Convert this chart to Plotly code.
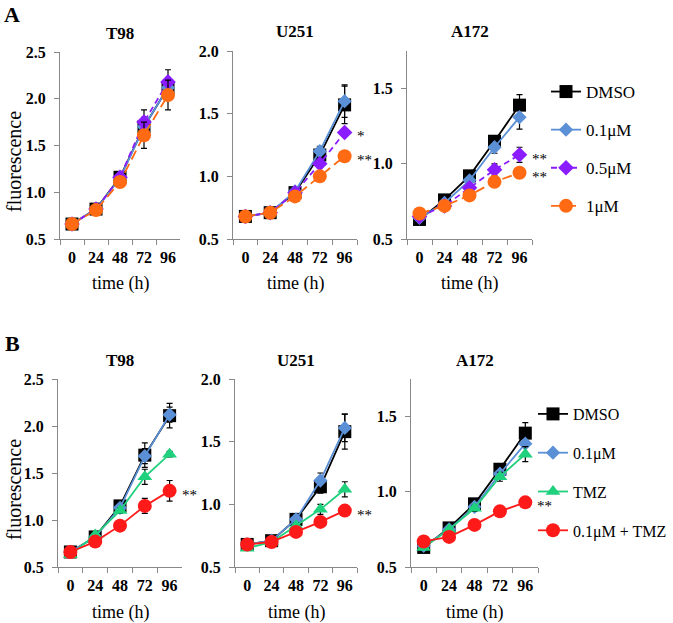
import plotly.graph_objects as go

# ---------------- data ----------------
times = ["0", "24", "48", "72", "96"]
cell_lines = ["T98", "U251", "A172"]

names_A = ["DMSO", "0.1μM", "0.5μM", "1μM"]
names_B = ["DMSO", "0.1μM", "TMZ", "0.1μM + TMZ"]

# Panel A values and errors
A_T98 = {
    "DMSO":  [0.66, 0.82, 1.16, 1.70, 2.12],
    "0.1μM": [0.66, 0.82, 1.15, 1.70, 2.12],
    "0.5μM": [0.66, 0.82, 1.16, 1.75, 2.18],
    "1μM":   [0.66, 0.81, 1.11, 1.61, 2.04],
}
A_T98_err = {
    "DMSO":  [0.02, 0.02, 0.04, 0.10, 0.10],
    "0.1μM": [0.02, 0.02, 0.03, 0.08, 0.08],
    "0.5μM": [0.02, 0.02, 0.03, 0.13, 0.13],
    "1μM":   [0.02, 0.02, 0.04, 0.14, 0.16],
}
A_U251 = {
    "DMSO":  [0.68, 0.71, 0.87, 1.17, 1.57],
    "0.1μM": [0.68, 0.71, 0.88, 1.20, 1.60],
    "0.5μM": [0.68, 0.71, 0.87, 1.10, 1.35],
    "1μM":   [0.68, 0.71, 0.84, 1.00, 1.16],
}
A_U251_err = {
    "DMSO":  [0.01, 0.01, 0.02, 0.05, 0.15],
    "0.1μM": [0.01, 0.01, 0.02, 0.04, 0.13],
    "0.5μM": [0.01, 0.01, 0.02, 0.03, 0.03],
    "1μM":   [0.01, 0.01, 0.02, 0.02, 0.04],
}
A_A172 = {
    "DMSO":  [0.63, 0.76, 0.92, 1.15, 1.39],
    "0.1μM": [0.64, 0.74, 0.89, 1.11, 1.31],
    "0.5μM": [0.65, 0.72, 0.84, 0.96, 1.06],
    "1μM":   [0.67, 0.72, 0.79, 0.88, 0.94],
}
A_A172_err = {
    "DMSO":  [0.01, 0.01, 0.02, 0.03, 0.07],
    "0.1μM": [0.01, 0.01, 0.02, 0.04, 0.08],
    "0.5μM": [0.01, 0.01, 0.02, 0.04, 0.05],
    "1μM":   [0.01, 0.01, 0.02, 0.02, 0.03],
}

# Panel B values and errors
B_T98 = {
    "DMSO":        [0.66, 0.82, 1.15, 1.69, 2.11],
    "0.1μM":       [0.66, 0.82, 1.13, 1.68, 2.12],
    "TMZ":         [0.63, 0.84, 1.10, 1.46, 1.70],
    "0.1μM + TMZ": [0.66, 0.77, 0.94, 1.15, 1.31],
}
B_T98_err = {
    "DMSO":        [0.02, 0.02, 0.03, 0.13, 0.13],
    "0.1μM":       [0.02, 0.02, 0.03, 0.08, 0.08],
    "TMZ":         [0.02, 0.02, 0.03, 0.08, 0.03],
    "0.1μM + TMZ": [0.02, 0.02, 0.03, 0.08, 0.11],
}
B_U251 = {
    "DMSO":        [0.68, 0.71, 0.88, 1.14, 1.58],
    "0.1μM":       [0.68, 0.71, 0.88, 1.19, 1.61],
    "TMZ":         [0.65, 0.70, 0.83, 0.96, 1.12],
    "0.1μM + TMZ": [0.68, 0.70, 0.78, 0.86, 0.95],
}
B_U251_err = {
    "DMSO":        [0.01, 0.01, 0.02, 0.05, 0.14],
    "0.1μM":       [0.01, 0.01, 0.02, 0.06, 0.11],
    "TMZ":         [0.01, 0.01, 0.02, 0.04, 0.06],
    "0.1μM + TMZ": [0.01, 0.01, 0.02, 0.02, 0.03],
}
B_A172 = {
    "DMSO":        [0.63, 0.76, 0.92, 1.15, 1.39],
    "0.1μM":       [0.64, 0.75, 0.90, 1.12, 1.32],
    "TMZ":         [0.63, 0.75, 0.89, 1.10, 1.25],
    "0.1μM + TMZ": [0.67, 0.70, 0.78, 0.87, 0.93],
}
B_A172_err = {
    "DMSO":        [0.01, 0.01, 0.02, 0.03, 0.07],
    "0.1μM":       [0.01, 0.01, 0.02, 0.03, 0.07],
    "TMZ":         [0.01, 0.01, 0.02, 0.03, 0.05],
    "0.1μM + TMZ": [0.01, 0.01, 0.01, 0.02, 0.02],
}

y_ranges = {"T98": [0.5, 2.5], "U251": [0.5, 2.0], "A172": [0.5, 1.75]}

# significance marks: (panel index, series, text)
stars = [
    (1, "0.5μM", "*"), (1, "1μM", "**"),
    (2, "0.5μM", "**"), (2, "1μM", "**"),
    (3, "0.1μM + TMZ", "**"), (4, "0.1μM + TMZ", "**"), (5, "0.1μM + TMZ", "**"),
]

# ---------------- styles ----------------
styles = {
    "DMSO":        dict(color="#000000", symbol="square", size=13, dash="solid"),
    "0.1μM":       dict(color="#5B8FD6", symbol="diamond", size=11, dash="solid"),
    "0.5μM":       dict(color="#8A1CFF", symbol="diamond", size=12, dash="6px,4px"),
    "1μM":         dict(color="#FF6A13", symbol="circle", size=14, dash="10px,5px"),
    "TMZ":         dict(color="#1FD07C", symbol="triangle-up", size=13, dash="solid"),
    "0.1μM + TMZ": dict(color="#FF1A1A", symbol="circle", size=14, dash="solid"),
}

W, H = 673, 623
SERIF = "Liberation Serif"

# plot-area pixel boxes (left, right, top, bottom)
boxes = [
    (60, 180, 52, 239), (233, 357, 51, 239), (407, 532, 51, 239),
    (58, 182, 379, 567), (235, 357, 379, 567), (411, 538, 379, 567),
]

panels = [
    ("T98", names_A, A_T98, A_T98_err, "legend"),
    ("U251", names_A, A_U251, A_U251_err, None),
    ("A172", names_A, A_A172, A_A172_err, None),
    ("T98", names_B, B_T98, B_T98_err, "legend2"),
    ("U251", names_B, B_U251, B_U251_err, None),
    ("A172", names_B, B_A172, B_A172_err, None),
]

fig = go.Figure()
layout = dict(
    width=W, height=H, margin=dict(l=0, r=0, t=0, b=0, autoexpand=False),
    paper_bgcolor="white", plot_bgcolor="white",
    font=dict(family=SERIF, color="black"),
)
annotations = []

for i, (cl, names, vals, errs, leg) in enumerate(panels):
    k = "" if i == 0 else str(i + 1)
    xa, ya = "x" + k, "y" + k
    l, r, t, b = boxes[i]
    for n in names:
        st = styles[n]
        fig.add_trace(go.Scatter(
            x=times, y=vals[n], name=n, mode="lines+markers",
            xaxis=xa, yaxis=ya,
            line=dict(color=st["color"], width=1.8, dash=st["dash"]),
            marker=dict(color=st["color"], symbol=st["symbol"], size=st["size"]),
            error_y=dict(type="data", array=errs[n], color="black", thickness=1.2, width=3),
            showlegend=leg is not None, legend=leg if leg else "legend",
            legendgroup=("A" if i < 3 else "B") + n,
        ))
    layout["xaxis" + k] = dict(
        domain=[l / W, r / W], anchor=ya, type="category", range=[-0.5, 4.5],
        tickson="boundaries", ticks="outside", ticklen=5, tickcolor="#888888",
        showline=True, linecolor="#888888", linewidth=1, showgrid=False, zeroline=False,
        tickangle=0, automargin=False, ticklabelstandoff=4,
        tickfont=dict(family=SERIF, size=16, color="black", weight="bold"),
        fixedrange=True,
    )
    layout["yaxis" + k] = dict(
        domain=[1 - b / H, 1 - t / H], anchor=xa, range=y_ranges[cl], dtick=0.5,
        tick0=0.5, tickformat=".1f", ticks="outside", ticklen=5, tickcolor="#888888",
        showline=True, linecolor="#888888", linewidth=1, showgrid=False, zeroline=False,
        automargin=False, ticklabelstandoff=5,
        tickfont=dict(family=SERIF, size=16, color="black", weight="bold"),
        fixedrange=True,
    )
    # subplot title
    annotations.append(dict(
        text="<b>%s</b>" % cl, xref="paper", yref="paper",
        x=((l + r) / 2) / W, y=1 - (t - 19) / H, xanchor="center", yanchor="middle",
        showarrow=False, font=dict(family=SERIF, size=17, color="black"),
    ))
    # x title
    annotations.append(dict(
        text="time (h)", xref="paper", yref="paper",
        x=((l + r) / 2) / W, y=1 - (b + 45) / H, xanchor="center", yanchor="middle",
        showarrow=False, font=dict(family=SERIF, size=18, color="black"),
    ))

# y titles
for yc in (162, 490):
    annotations.append(dict(
        text="fluorescence", xref="paper", yref="paper", x=14 / W, y=1 - yc / H,
        xanchor="center", yanchor="middle", textangle=-90, showarrow=False,
        font=dict(family=SERIF, size=20, color="black"),
    ))

# panel letters
for letter, yc in (("A", 14), ("B", 343)):
    annotations.append(dict(
        text="<b>%s</b>" % letter, xref="paper", yref="paper", x=12 / W, y=1 - yc / H,
        xanchor="center", yanchor="middle", showarrow=False,
        font=dict(family=SERIF, size=22, color="black"),
    ))

# significance stars
for pi, sname, txt in stars:
    k = "" if pi == 0 else str(pi + 1)
    vals = panels[pi][2][sname]
    annotations.append(dict(
        text=txt, xref="x" + k, yref="y" + k, x=len(times) - 1, y=vals[-1],
        xanchor="left", yanchor="middle", xshift=10, yshift=-4, showarrow=False,
        font=dict(family=SERIF, size=15, color="black"),
    ))

layout["annotations"] = annotations
layout["legend"] = dict(
    x=546 / W, y=1 - 74 / H, xanchor="left", yanchor="top",
    font=dict(family=SERIF, size=17, color="black"), bgcolor="rgba(0,0,0,0)",
    tracegroupgap=13, itemsizing="trace", itemwidth=30,
)
layout["legend2"] = dict(
    x=533 / W, y=1 - 397 / H, xanchor="left", yanchor="top",
    font=dict(family=SERIF, size=16, color="black"), bgcolor="rgba(0,0,0,0)",
    tracegroupgap=15, itemsizing="trace", itemwidth=30,
)
fig.update_layout(**layout)
fig.write_html(
    "out.html",
    config={"displayModeBar": False},
    post_script="document.body.style.margin='0';document.body.style.padding='0';",
)
